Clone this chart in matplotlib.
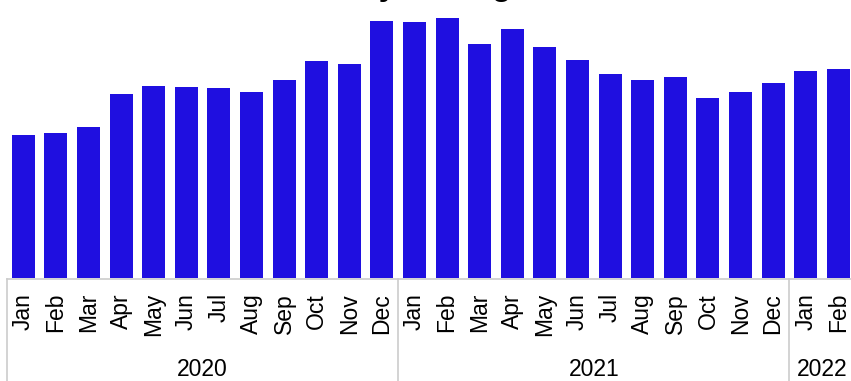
import matplotlib.pyplot as plt
from matplotlib.lines import Line2D
import matplotlib.transforms as mtransforms

plt.rcParams['font.family'] = ['Liberation Sans', 'DejaVu Sans']

# monthly values, Jan 2020 - Feb 2022
months = ["Jan", "Feb", "Mar", "Apr", "May", "Jun", "Jul", "Aug", "Sep", "Oct", "Nov", "Dec",
          "Jan", "Feb", "Mar", "Apr", "May", "Jun", "Jul", "Aug", "Sep", "Oct", "Nov", "Dec",
          "Jan", "Feb"]
values = [143, 145, 151, 184, 192, 191, 190, 186, 198, 217, 214, 257,
          256, 260, 234, 249, 231, 218, 204, 198, 201, 180, 186, 195,
          207, 209]
years = ["2020", "2021", "2022"]
year_counts = [12, 12, 2]

BAR_COLOR = "#1f0fe0"
GRID_COLOR = "#cccccc"

W, H = 851, 381
fig = plt.figure(figsize=(W / 100, H / 100), dpi=100)

pitch = 32.6
n = len(values)
ax_left = 7
ax_bottom = H - 277.5
ax = fig.add_axes([ax_left / W, ax_bottom / H, n * pitch / W, 277.5 / H])
ax.bar(range(n), values, width=0.7, color=BAR_COLOR, edgecolor="none")
ax.set_xlim(-0.5, n - 0.5)
ax.set_ylim(0, 277.5)
ax.axis("off")

# title sits above the canvas, only descenders reach in
fig.text(402 / W, 1 + 4.5 / H, "Monthly Average", ha="center", va="baseline",
         fontsize=23, fontweight="bold")

# category axis: month labels and year groups
tr = mtransforms.blended_transform_factory(ax.transData, fig.transFigure)
line_y = 1 - 279 / H
label_y = 1 - 293 / H
year_y = 1 - 369 / H

for i, m in enumerate(months):
    fig.text(i, label_y, m, transform=tr, rotation=90, ha="center", va="top",
             fontsize=16.5)

fig.add_artist(Line2D([-0.5, n - 0.5], [line_y, line_y], transform=tr,
                      color=GRID_COLOR, lw=1.2))
start = -0.5
for yr, cnt in zip(years, year_counts):
    fig.add_artist(Line2D([start, start], [0, line_y], transform=tr,
                          color=GRID_COLOR, lw=1.2))
    fig.text(start + cnt / 2, year_y, yr, transform=tr, ha="center",
             va="center", fontsize=16.5)
    start += cnt

fig.savefig("out.png", dpi=100)
